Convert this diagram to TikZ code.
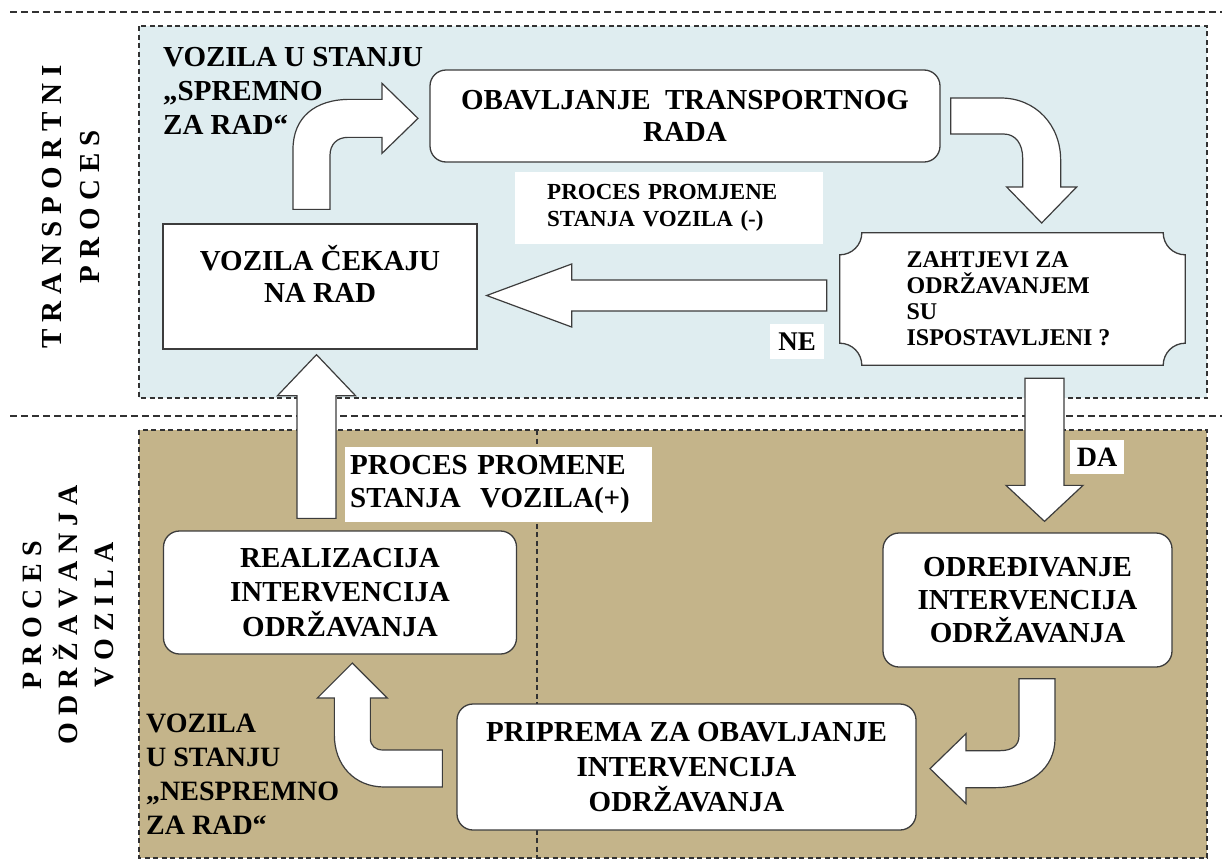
\documentclass[tikz,border=0pt]{standalone}
\usepackage{fontspec}
\setmainfont{Liberation Serif}
\usepackage{tikz}
\usetikzlibrary{calc}
\definecolor{bluezone}{RGB}{223,237,240}
\definecolor{tanzone}{RGB}{196,180,138}
\definecolor{linegray}{RGB}{60,60,60}
\definecolor{dashgray}{RGB}{50,50,50}
\newcommand{\boldsize}[2]{\fontsize{#1}{#2}\selectfont\bfseries}

\begin{document}
\begin{tikzpicture}
[x=1pt,y=-1pt,
zone/.style={draw=dashgray,dash pattern=on 5pt off 3.5pt,line width=1.3pt},
longdash/.style={draw=dashgray,dash pattern=on 7pt off 4pt,line width=1.5pt},
roundbox/.style={draw=linegray,fill=white,line width=1.3pt,rounded
corners=16pt,align=center,inner sep=0pt},
squarebox/.style={draw=linegray,fill=white,line width=1.3pt,inner sep=0pt},
boxtext/.style={align=center,inner sep=0pt},
whitelabel/.style={fill=white,inner sep=0pt},
freetext/.style={align=left,inner sep=0pt},
sidetext/.style={align=center,rotate=90,inner sep=0pt},
bendarrow/.style={draw=linegray,fill=white,line width=1.2pt,line join=miter},
fatarrow/.style n args={3}{bendarrow,
to path={($(\tikztostart)!#1!90:(\tikztotarget)$)
-- ($(\tikztotarget)!#3!(\tikztostart)!#1!-90:(\tikztostart)$)
-- ($(\tikztotarget)!#3!(\tikztostart)!#2!-90:(\tikztostart)$)
-- (\tikztotarget)
-- ($(\tikztotarget)!#3!(\tikztostart)!#2!90:(\tikztostart)$)
-- ($(\tikztotarget)!#3!(\tikztostart)!#1!90:(\tikztostart)$)
-- ($(\tikztostart)!#1!-90:(\tikztotarget)$) -- cycle}}
]
\useasboundingbox (0,0) rectangle (1222,865);
\draw [longdash] (10,12) -- (1222,12);
\draw [longdash] (10,416) -- (1222,416);
\draw [zone,fill=bluezone] (139,26) rectangle (1207,398);
\draw [zone,fill=tanzone] (139,430) rectangle (1207,858);
\draw [zone] (537,430) -- (537,858);

\node [sidetext,font=\boldsize{29}{38}] (TP) at (71,207)
{T R A N S P O R T N I\\P R O C E S};
\node [sidetext,font=\boldsize{28}{36}] (PO) at (68,615)
{P R O C E S\\O D R Ž A V A N J A\\V O Z I L A};

\node [whitelabel,anchor=west,align=left,text width=244,inner xsep=32,
minimum height=72,font=\boldsize{23}{27}] (Minus) at (515,208)
{PROCES PROMJENE\\STANJA VOZILA (-)};
\node [whitelabel,anchor=west,align=left,text width=297,inner xsep=5,
minimum height=75,font=\boldsize{29}{33}] (Plus) at (345,484.5)
{PROCES PROMENE\\STANJA\ \ VOZILA(+)};
\node [whitelabel,minimum width=54,minimum height=35,
font=\boldsize{27}{30}] (No) at (797,341.5) {NE};
\node [whitelabel,minimum width=54,minimum height=34,
font=\boldsize{28}{30}] (Yes) at (1097,457) {DA};

\node [freetext,anchor=north west,font=\boldsize{29}{34}] (Ready) at (163,47)
{VOZILA U STANJU\\„SPREMNO\\ZA RAD“};
\node [freetext,anchor=north west,font=\boldsize{28}{34}] (NotReady) at (146,714)
{VOZILA\\U STANJU\\„NESPREMNO\\ZA RAD“};

\node [squarebox,minimum width=314,minimum height=125] (Wait) at (320,286.5) {};
\node [boxtext,font=\boldsize{29}{32}] (WaitText) at (320,274)
{VOZILA ČEKAJU\\NA RAD};
\node [roundbox,minimum width=510,minimum height=92,font=\boldsize{29}{32}]
(Work) at (685,116) {OBAVLJANJE\ \ TRANSPORTNOG\\RADA};
\node [roundbox,minimum width=353,minimum height=123,font=\boldsize{29}{34.5}]
(Real) at (340,592.5) {REALIZACIJA\\INTERVENCIJA\\ODRŽAVANJA};
\node [roundbox,minimum width=289,minimum height=134,font=\boldsize{29}{33}]
(Det) at (1027.5,600) {ODREĐIVANJE\\INTERVENCIJA\\ODRŽAVANJA};
\node [roundbox,minimum width=459,minimum height=126,font=\boldsize{29}{35}]
(Prep) at (686.5,767) {PRIPREMA ZA OBAVLJANJE\\INTERVENCIJA\\ODRŽAVANJA};

\node [inner sep=0pt,minimum width=345,minimum height=132] (Ask) at (1012.5,299) {};
\draw [bendarrow,line width=1.3pt]
([yshift=-22pt]Ask.north west) arc[start angle=270,end angle=360,radius=22pt]
-- ([xshift=-22pt]Ask.north east) arc[start angle=180,end angle=270,radius=22pt]
-- ([yshift=22pt]Ask.south east) arc[start angle=90,end angle=180,radius=22pt]
-- ([xshift=22pt]Ask.south west) arc[start angle=0,end angle=90,radius=22pt]
-- cycle;
\node [freetext,font=\boldsize{24}{26}] (AskText) at ([xshift=-4pt]Ask.center)
{ZAHTJEVI ZA\\ODRŽAVANJEM\\SU\\ISPOSTAVLJENI ?};

\coordinate (u0) at ([xshift=-23.5pt,yshift=12pt]Real.north);
\coordinate (u1) at ([xshift=-3.5pt,yshift=-5pt]Wait.south);
\draw [fatarrow={19.5pt}{39pt}{41pt}] (u0) to (u1);
\coordinate (l0) at ([xshift=-13pt,yshift=3.5pt]Ask.west);
\coordinate (l1) at ([xshift=9pt,yshift=-9pt]Wait.east);
\draw [fatarrow={15.5pt}{31.5pt}{85pt}] (l0) to (l1);
\coordinate (d0) at ([xshift=32pt,yshift=-13pt]Ask.south);
\coordinate (d1) at ([xshift=17pt,yshift=11pt]Det.north);
\draw [fatarrow={19.5pt}{38.5pt}{36pt}] (d0) to (d1);

\coordinate (a0) at ([xshift=-27pt,yshift=14pt]Wait.north);
\begin{scope}[shift={(a0)}]
\draw [bendarrow] (0,0) -- (0,-60) .. controls (0,-92) and (22,-110) .. (57,-110)
-- (89,-110) -- (89,-126) -- (125,-91) -- (89,-56) -- (89,-72) -- (55,-72)
.. controls (44,-72) and (37,-65) .. (37,-54) -- (37,0) -- cycle;
\end{scope}
\coordinate (b0) at ([xshift=10pt,yshift=18pt]Work.east);
\begin{scope}[shift={(b0)}]
\draw [bendarrow] (0,0) -- (50,0) .. controls (85,0) and (110,27) .. (110,62)
-- (110,89) -- (126,89) -- (91,125) -- (56,89) -- (72,89) -- (72,60)
.. controls (72,46) and (65,36) .. (53,36) -- (0,36) -- cycle;
\end{scope}
\coordinate (c0) at ([xshift=-8.5pt,yshift=-11pt]Det.south);
\begin{scope}[shift={(c0)}]
\draw [bendarrow] (0,0) -- (36,0) -- (36,60) .. controls (36,90) and (11,109) .. (-24,109)
-- (-53,109) -- (-53,125) -- (-89,90) -- (-53,55) -- (-53,72) -- (-19,72)
.. controls (-7,72) and (0,67) .. (0,57) -- cycle;
\end{scope}
\coordinate (e0) at ([xshift=-14pt,yshift=17pt]Prep.west);
\begin{scope}[shift={(e0)}]
\draw [bendarrow] (0,0) -- (0,37) -- (-58,37) .. controls (-88,37) and (-108,15) .. (-108,-15)
-- (-108,-52) -- (-125,-52) -- (-90,-87) -- (-55,-52) -- (-72,-52) -- (-72,-12)
.. controls (-72,-4) and (-67,0) .. (-59,0) -- cycle;
\end{scope}
\end{tikzpicture}
\end{document}
